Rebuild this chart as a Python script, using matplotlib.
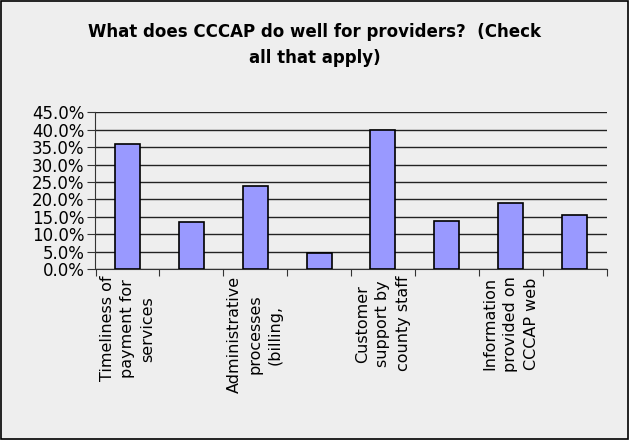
import matplotlib
matplotlib.use("Agg")
import matplotlib.pyplot as plt
import numpy as np
from matplotlib.ticker import FuncFormatter, MultipleLocator
from matplotlib.patches import Rectangle

# data
categories = [
    "Timeliness of\npayment for\nservices",
    "",
    "Administrative\nprocesses\n(billing,",
    "",
    "Customer\nsupport by\ncounty staff",
    "",
    "Information\nprovided on\nCCCAP web",
    "",
]
shares = [35.9, 13.5, 23.8, 4.6, 40.1, 13.7, 18.9, 15.6]

title = "What does CCCAP do well for providers?  (Check\nall that apply)"

bg = "#eeeeee"
fig = plt.figure(figsize=(6.29, 4.40), dpi=100, facecolor=bg)
fig.patches.append(Rectangle((0.0015, 0.002), 0.997, 0.996, transform=fig.transFigure,
                             fill=False, edgecolor="black", linewidth=1.2))

ax = fig.add_axes([95.5 / 629, 1 - 269 / 440, 511 / 629, 156.5 / 440])
ax.set_facecolor(bg)

x = np.arange(len(shares))
ax.bar(x, shares, width=0.39, color="#9999ff", edgecolor="black", linewidth=1.2, zorder=3)

ax.set_xlim(-0.5, len(shares) - 0.5)
ax.set_ylim(0, 45)
ax.yaxis.set_major_locator(MultipleLocator(5))
ax.yaxis.set_major_formatter(FuncFormatter(lambda v, p: f"{v:.1f}%"))
ax.grid(axis="y", color="#222222", linewidth=1.0, zorder=0)

for s in ["top", "right"]:
    ax.spines[s].set_visible(False)
ax.spines["left"].set_color("#333333")
ax.spines["bottom"].set_color("#333333")

# ticks between categories, labels at category centres
ax.set_xticks(np.arange(-0.5, len(shares)), minor=False)
ax.set_xticklabels([])
ax.tick_params(axis="x", which="major", direction="out", length=5, color="#333333")
ax.set_xticks(x, minor=True)
ax.set_xticklabels(categories, minor=True, rotation=90, ha="center", va="top",
                   multialignment="center", fontsize=11.5, linespacing=1.45)
ax.tick_params(axis="x", which="minor", length=0, pad=5)
ax.tick_params(axis="y", direction="out", length=6, color="#333333", labelsize=12, pad=2)

fig.text(0.5, 1 - 45 / 440, title, ha="center", va="center", fontsize=12,
         fontweight="bold", linespacing=1.6)

fig.savefig("out.png", dpi=100, facecolor=bg)
